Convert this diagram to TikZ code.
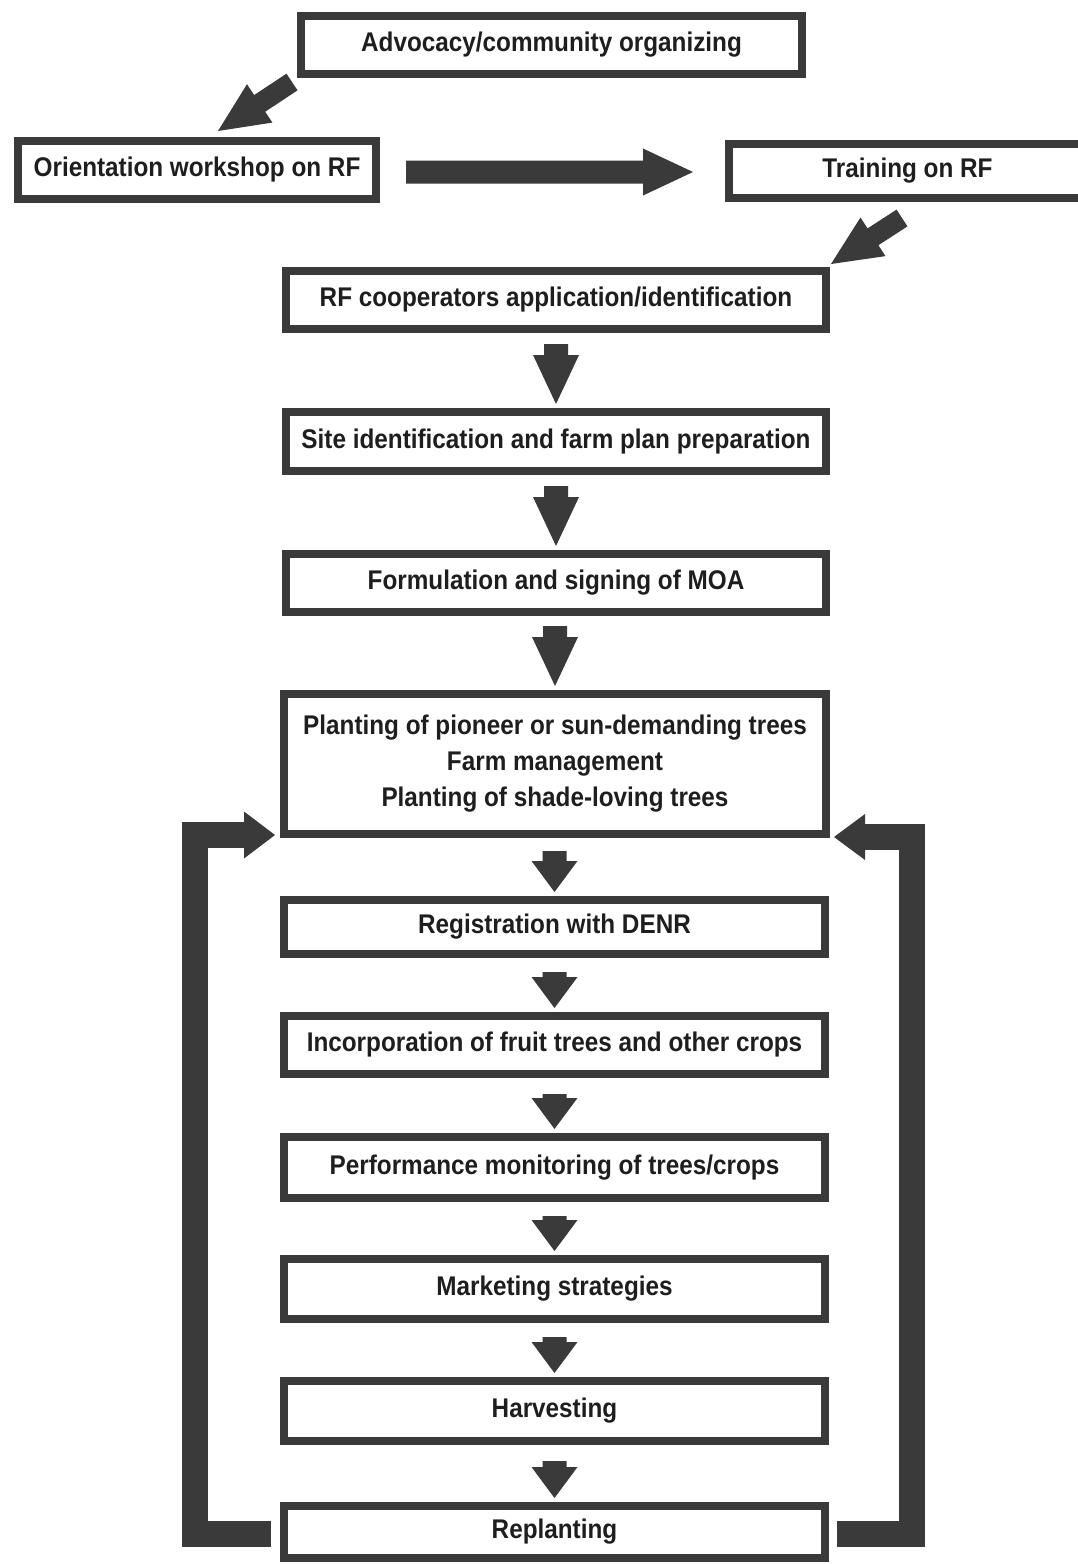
\documentclass[tikz,border=0pt]{standalone}
\usepackage{fontspec}
\newfontfamily\dfont{Liberation Sans}[FakeStretch=0.9]
\usetikzlibrary{calc}
\definecolor{boxcol}{HTML}{3A3A3A}
\definecolor{txtcol}{HTML}{1E1E1E}
\tikzset{
  flowbox/.style={draw=boxcol, line width=8pt, fill=white, inner sep=0pt,
    align=center, text=txtcol, font=\dfont\bfseries\fontsize{27}{36}\selectfont},
  loopline/.style={draw=boxcol, line width=26pt, line join=miter, line cap=butt}
}
% block arrow: #1 start, #2 tip, #3 shaft half width, #4 head half width, #5 head length
\newcommand\blockarrow[5]{%
  \coordinate (ba-N) at ($(#2)!#5!(#1)$);
  \fill[boxcol] ($(#1)!#3!90:(#2)$) -- ($(ba-N)!#3!90:(#2)$) -- ($(ba-N)!#4!90:(#2)$)
    -- (#2) -- ($(ba-N)!#4!-90:(#2)$) -- ($(ba-N)!#3!-90:(#2)$) -- ($(#1)!#3!-90:(#2)$) -- cycle;}
% vertical down arrow from node #1 to node #2, gap #3, head length #4
\newcommand\flowdown[4]{%
  \coordinate (#1-#2-t) at ($(#2.north)+(0,-4)$);
  \coordinate (#1-#2-s) at ($(#1-#2-t |- #1.south)+(0,4+#3)$);
  \blockarrow{#1-#2-s}{#1-#2-t}{12pt}{23pt}{#4pt}}
\begin{document}
\begin{tikzpicture}[x=1pt,y=-1pt]
\useasboundingbox (0,0) rectangle (1078,1564);
\clip (0,0) rectangle (1078,1564);
\fill[white] (0,0) rectangle (1078,1564);

\node[flowbox, minimum width=501pt, minimum height=58pt] (adv) at (551.5,45) {Advocacy/community organizing};
\node[flowbox, minimum width=358pt, minimum height=58pt] (ori) at (197,170) {Orientation workshop on RF};
\node[flowbox, minimum width=357pt, minimum height=54pt] (tra) at (907.5,171) {Training on RF};
\node[flowbox, minimum width=540pt, minimum height=58pt] (rf) at (556,300) {RF cooperators application/identification};
\node[flowbox, minimum width=540pt, minimum height=59pt] (site) at (556,441.5) {Site identification and farm plan preparation};
\node[flowbox, minimum width=540pt, minimum height=58pt] (form) at (556,583) {Formulation and signing of MOA};
\node[flowbox, minimum width=542pt, minimum height=140pt] (plant) at (555,764) {Planting of pioneer or sun-demanding trees\\Farm management\\Planting of shade-loving trees};
\node[flowbox, minimum width=541pt, minimum height=54pt] (reg) at (554.5,927) {Registration with DENR};
\node[flowbox, minimum width=541pt, minimum height=58pt] (inc) at (554.5,1045) {Incorporation of fruit trees and other crops};
\node[flowbox, minimum width=541pt, minimum height=61pt] (perf) at (554.5,1167.5) {Performance monitoring of trees/crops};
\node[flowbox, minimum width=541pt, minimum height=60pt] (mkt) at (554.5,1289) {Marketing strategies};
\node[flowbox, minimum width=541pt, minimum height=60pt] (harv) at (554.5,1411) {Harvesting};
\node[flowbox, minimum width=541pt, minimum height=52pt] (repl) at (554.5,1532) {Replanting};

% top arrows
\coordinate (a1s) at ($(adv.south west)+(-5,4)$);
\coordinate (a1t) at ($(ori.north)+(21,-6)$);
\blockarrow{a1s}{a1t}{10pt}{23pt}{50pt}
\coordinate (a2s) at ($(ori.east)+(26,2)$);
\coordinate (a2t) at ($(tra.west)+(-32,1)$);
\blockarrow{a2s}{a2t}{11.5pt}{23.5pt}{50pt}
\coordinate (a3s) at ($(tra.south)+(-5.5,16)$);
\coordinate (a3t) at ($(rf.north east)+(1,-3)$);
\blockarrow{a3s}{a3t}{10pt}{23pt}{50pt}

% vertical arrows
\flowdown{rf}{site}{7}{49}
\flowdown{site}{form}{7}{49}
\flowdown{form}{plant}{6}{49}
\flowdown{plant}{reg}{9}{31}
\flowdown{reg}{inc}{10}{31}
\flowdown{inc}{perf}{12}{31}
\flowdown{perf}{mkt}{10}{31}
\flowdown{mkt}{harv}{10}{31}
\flowdown{harv}{repl}{12}{31}

% feedback loops
\coordinate (lx) at (195,0);
\coordinate (lA) at ($(repl.west)+(-9,2)$);
\coordinate (lT) at ($(plant.south west)+(-5,-3)$);
\draw[loopline] (lA) -- (lA -| lx) -- (lT -| lx) -- ($(lT)+(-31,0)$);
\fill[boxcol] ($(lT)+(-31,-23.5)$) -- (lT) -- ($(lT)+(-31,23.5)$) -- cycle;

\coordinate (rx) at (911.5,0);
\coordinate (rA) at ($(repl.east)+(8,2)$);
\coordinate (rT) at ($(plant.south east)+(4,-1)$);
\draw[loopline] (rA) -- (rA -| rx) -- (rT -| rx) -- ($(rT)+(31,0)$);
\fill[boxcol] ($(rT)+(31,-23)$) -- (rT) -- ($(rT)+(31,23)$) -- cycle;
\end{tikzpicture}
\end{document}
